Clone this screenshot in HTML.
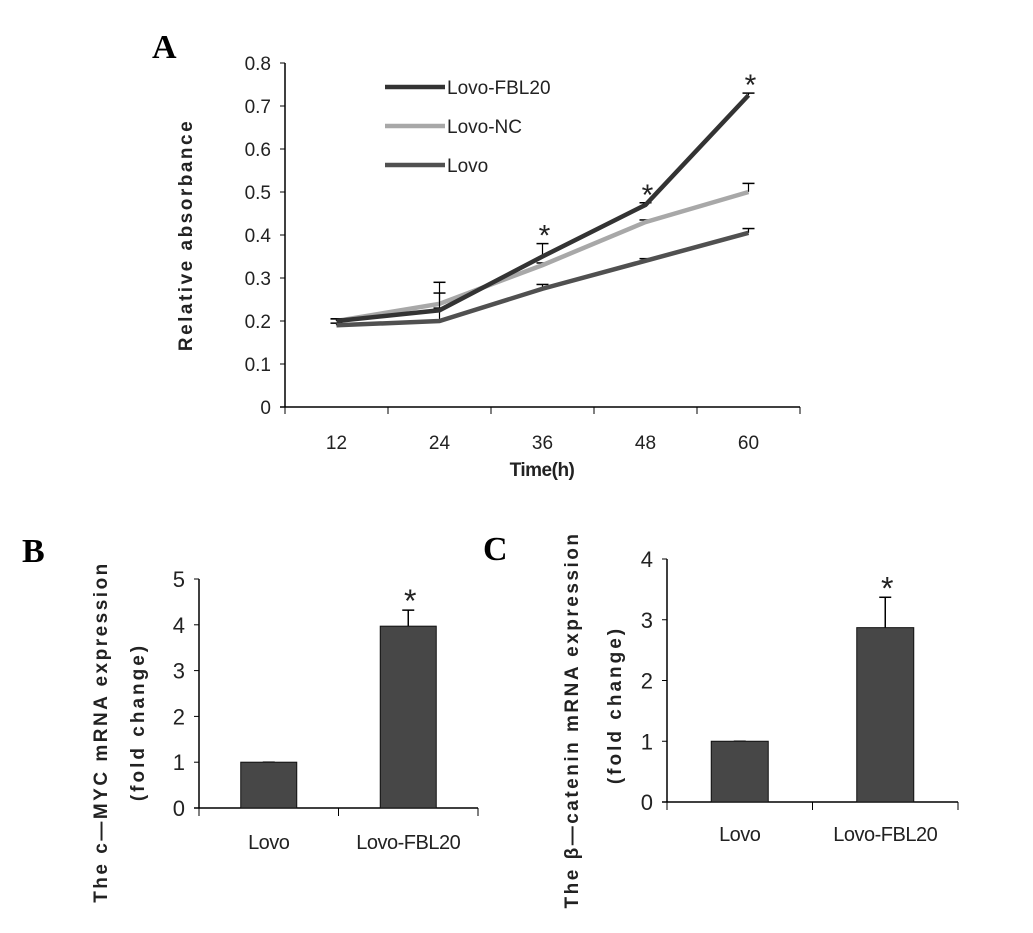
<!DOCTYPE html>
<html><head><meta charset="utf-8"><style>
body{margin:0;background:#fff;}
svg text{font-family:"Liberation Sans",sans-serif;}
</style></head><body>
<svg id="s" width="1033" height="928" xmlns="http://www.w3.org/2000/svg">
<text x="152" y="58" font-weight="bold" font-size="34" style="font-family:'Liberation Serif',serif">A</text>
<text x="22" y="562" font-weight="bold" font-size="34" style="font-family:'Liberation Serif',serif">B</text>
<text x="483" y="560" font-weight="bold" font-size="34" style="font-family:'Liberation Serif',serif">C</text>
<g id="A"></g>
<g id="B"></g>
<g id="C"></g>
</svg>
<script>
const times=['12','24','36','48','60'];
const fbl20=[0.2,0.225,0.35,0.47,0.725];
const nc=[0.2,0.24,0.33,0.43,0.5];
const lovo=[0.19,0.2,0.275,0.34,0.405];
const fblErr=[0.205,0.29,0.38,0.475,0.73];
const ncErr=[0.205,0.265,0.335,0.435,0.52];
const lovoErr=[0.195,0.23,0.285,0.345,0.415];
const yTicksA=[0,0.1,0.2,0.3,0.4,0.5,0.6,0.7,0.8];
const starsA=[false,false,true,true,true];
const bCats=['Lovo','Lovo-FBL20'];
const bVals=[1,3.97];
const bErr=[1,4.32];
const bTicks=[0,1,2,3,4,5];
const cVals=[1,2.87];
const cErr=[1,3.37];
const cTicks=[0,1,2,3,4];
const NS='http://www.w3.org/2000/svg';
function el(p,t,a,txt){const e=document.createElementNS(NS,t);for(const k in a)e.setAttribute(k,a[k]);if(txt!==undefined)e.textContent=txt;p.appendChild(e);return e;}
const A=document.getElementById('A');
const ax0=285,ax1=800,ay0=407,ay1=63;
const yA=v=>ay0-(v/0.8)*(ay0-ay1);
const xA=i=>ax0+(i+0.5)*(ax1-ax0)/times.length;
let e=el(A,'line',{x1:ax0,y1:ay1,x2:ax0,y2:ay0,stroke:'#000','stroke-width':1.5});

e=el(A,'line',{x1:ax0-5,y1:ay0,x2:ax1,y2:ay0,stroke:'#000','stroke-width':1.5});

yTicksA.forEach(v=>{el(A,'line',{x1:ax0-5,y1:yA(v),x2:ax0,y2:yA(v),stroke:'#000'});
 const t=el(A,'text',{x:ax0-14,y:yA(v)+7,'text-anchor':'end','font-size':19,fill:'#222'},String(v));
 });
for(let i=0;i<=times.length;i++){const x=ax0+i*(ax1-ax0)/times.length;el(A,'line',{x1:x,y1:ay0,x2:x,y2:ay0+7,stroke:'#000'});}
times.forEach((c,i)=>{const t=el(A,'text',{x:xA(i),y:449,'text-anchor':'middle','font-size':19,fill:'#222'},c);
 });
e=el(A,'text',{x:542,y:476,'text-anchor':'middle','font-size':19,'font-weight':'bold',fill:'#222','letter-spacing':'-0.5'},'Time(h)');

e=el(A,'text',{x:0,y:0,'text-anchor':'middle','font-size':19,'font-weight':'bold',fill:'#222','letter-spacing':'2.5',transform:'translate(192,235) rotate(-90)'},'Relative absorbance');

const series=[[lovo,'#505050',lovoErr,'Lovo'],[nc,'#a8a8a8',ncErr,'Lovo-NC'],[fbl20,'#333',fblErr,'Lovo-FBL20']];
series.forEach(([d,col,er,n])=>{
 d.forEach((v,i)=>{const x=xA(i);el(A,'line',{x1:x,y1:yA(v),x2:x,y2:yA(er[i]),stroke:'#000','stroke-width':1.2});
  el(A,'line',{x1:x-6,y1:yA(er[i]),x2:x+6,y2:yA(er[i]),stroke:'#000','stroke-width':1.5});});
 const p=el(A,'polyline',{points:d.map((v,i)=>xA(i)+','+yA(v)).join(' '),fill:'none',stroke:col,'stroke-width':4.5});
 });
starsA.forEach((s,i)=>{if(!s)return;const t=el(A,'text',{x:xA(i)+2,y:yA(Math.max(fblErr[i],fbl20[i]))+2,'text-anchor':'middle','font-size':30,fill:'#222'},'*');
 });
[['Lovo-FBL20','#333',87],['Lovo-NC','#a8a8a8',126],['Lovo','#505050',165]].forEach(([n,c,y])=>{
 const g=el(A,'g',{});
 el(g,'line',{x1:385,y1:y,x2:445,y2:y,stroke:c,'stroke-width':4.5});
 el(g,'text',{x:447,y:y+7,'font-size':19,fill:'#222'},n);});
function bar(id,x0,x1,y0,y1,ticks,vals,err,bars,title1,title2,t1x,t2x,ty,ty2,labY,ls1){
 const G=document.getElementById(id);const mx=ticks[ticks.length-1];
 const y=v=>y0-(v/mx)*(y0-y1);
 let e=el(G,'line',{x1:x0,y1:y1,x2:x0,y2:y0,stroke:'#000','stroke-width':1.5});
 
 e=el(G,'line',{x1:x0-5,y1:y0,x2:x1,y2:y0,stroke:'#000','stroke-width':1.5});
 
 ticks.forEach(v=>{el(G,'line',{x1:x0-5,y1:y(v),x2:x0,y2:y(v),stroke:'#000'});
  const t=el(G,'text',{x:x0-14,y:y(v)+8,'text-anchor':'end','font-size':22,fill:'#222'},String(v));
  });
 const w=(x1-x0)/bCats.length;
 for(let i=0;i<=bCats.length;i++)el(G,'line',{x1:x0+i*w,y1:y0,x2:x0+i*w,y2:y0+8,stroke:'#000'});
 bCats.forEach((c,i)=>{const cx=x0+(i+0.5)*w;
  el(G,'line',{x1:cx,y1:y(vals[i]),x2:cx,y2:y(err[i]),stroke:'#000','stroke-width':1.5});
  el(G,'line',{x1:cx-6,y1:y(err[i]),x2:cx+6,y2:y(err[i]),stroke:'#000','stroke-width':1.5});
  const r=el(G,'rect',{x:cx-bars/2,y:y(vals[i]),width:bars,height:y(0)-y(vals[i]),fill:'#474747',stroke:'#111'});
  
  const t=el(G,'text',{x:cx,y:labY,'text-anchor':'middle','font-size':20,fill:'#222','letter-spacing':'-0.5'},c);
  
  if(i==1){const s=el(G,'text',{x:cx+2,y:y(err[i])+2,'text-anchor':'middle','font-size':32,fill:'#222'},'*');
   }});
 let t=el(G,'text',{x:0,y:0,'text-anchor':'middle','font-size':19,'font-weight':'bold',fill:'#222','letter-spacing':ls1,transform:`translate(${t1x},${ty}) rotate(-90)`},title1);
 
 t=el(G,'text',{x:0,y:0,'text-anchor':'middle','font-size':19,'font-weight':'bold',fill:'#222','letter-spacing':'3',transform:`translate(${t2x},${ty2}) rotate(-90)`},title2);
 
}
bar('B',199,478,808,579,bTicks,bVals,bErr,56,'The  c\u2014MYC  mRNA  expression','(fold  change)',107,144,732,722,849,'2.5');
bar('C',667,958,802,559,cTicks,cVals,cErr,57,'The  \u03b2\u2014catenin  mRNA  expression','(fold  change)',578,621,720,705,841,'2.5');
</script>
</body></html>
